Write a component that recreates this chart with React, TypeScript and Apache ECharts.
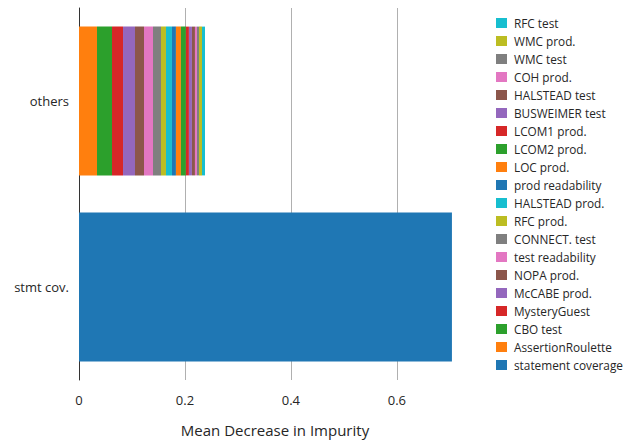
import React, { useEffect, useRef } from "react";
import * as echarts from "echarts";

const categories = ["stmt cov.", "others"];

const stmtCoverage = 0.704;

const otherFeatures = [
  "AssertionRoulette",
  "CBO test",
  "MysteryGuest",
  "McCABE prod.",
  "NOPA prod.",
  "test readability",
  "CONNECT. test",
  "RFC prod.",
  "HALSTEAD prod.",
  "prod readability",
  "LOC prod.",
  "LCOM2 prod.",
  "LCOM1 prod.",
  "BUSWEIMER test",
  "HALSTEAD test",
  "COH prod.",
  "WMC test",
  "WMC prod.",
  "RFC test",
];

const otherValues = [
  0.034, 0.0283, 0.0208, 0.0226, 0.017, 0.017, 0.0151, 0.0094, 0.0113, 0.0075,
  0.0094, 0.0094, 0.0057, 0.0057, 0.0057, 0.0038, 0.0038, 0.0057, 0.0057,
];

const xTicks = [0, 0.2, 0.4, 0.6];

const palette = [
  "#1f77b4",
  "#ff7f0e",
  "#2ca02c",
  "#d62728",
  "#9467bd",
  "#8c564b",
  "#e377c2",
  "#7f7f7f",
  "#bcbd22",
  "#17becf",
];

const FONT = "Open Sans";
const TEXT = "#262626";

export default function App() {
  const ref = useRef<HTMLDivElement>(null);

  useEffect(() => {
    if (!ref.current) return;
    const chart = echarts.init(ref.current, undefined, { renderer: "svg" });

    const names = ["statement coverage", ...otherFeatures];
    const series: any[] = [
      {
        name: "statement coverage",
        type: "bar",
        stack: "total",
        barWidth: "80%",
        data: [stmtCoverage, "-"],
        itemStyle: { color: palette[0] },
      },
      ...otherFeatures.map((n, i) => ({
        name: n,
        type: "bar",
        stack: "total",
        barWidth: "80%",
        data: ["-", otherValues[i]],
        itemStyle: { color: palette[(i + 1) % 10] },
      })),
    ];

    chart.setOption({
      animation: false,
      textStyle: { fontFamily: FONT },
      grid: { left: 79, top: 8, width: 392, height: 372, containLabel: false },
      xAxis: {
        type: "value",
        min: 0,
        max: 0.74,
        interval: 0.2,
        name: "Mean Decrease in Impurity",
        nameLocation: "middle",
        nameGap: 42,
        nameTextStyle: { fontFamily: FONT, fontSize: 15, color: TEXT },
        axisLine: { show: false },
        axisTick: { show: false },
        axisLabel: {
          fontFamily: FONT,
          fontSize: 13,
          color: TEXT,
          margin: 13,
          formatter: (v: number) =>
            xTicks.some((t) => Math.abs(t - v) < 1e-9)
              ? v === 0
                ? "0"
                : String(Math.round(v * 10) / 10)
              : "",
        },
        splitLine: {
          show: true,
          showMinLine: false,
          showMaxLine: false,
          lineStyle: { color: "#b0b0b0", width: 1 },
        },
      },
      yAxis: {
        type: "category",
        data: categories,
        axisLine: { show: true, lineStyle: { color: "#333333", width: 1 } },
        axisTick: { show: false },
        axisLabel: { fontFamily: FONT, fontSize: 13, color: TEXT, margin: 10 },
        splitLine: { show: false },
      },
      legend: {
        orient: "vertical",
        left: 491,
        top: 12,
        icon: "rect",
        itemWidth: 11,
        itemHeight: 10,
        itemGap: 6,
        data: [...names].reverse(),
        textStyle: {
          fontFamily: FONT,
          fontSize: 11.8,
          color: TEXT,
          lineHeight: 12,
          padding: [0, 0, 0, 2],
        },
      },
      series,
    });

    return () => chart.dispose();
  }, []);

  return (
    <div
      ref={ref}
      style={{ position: "absolute", left: 0, top: 0, width: 624, height: 445 }}
    />
  );
}
